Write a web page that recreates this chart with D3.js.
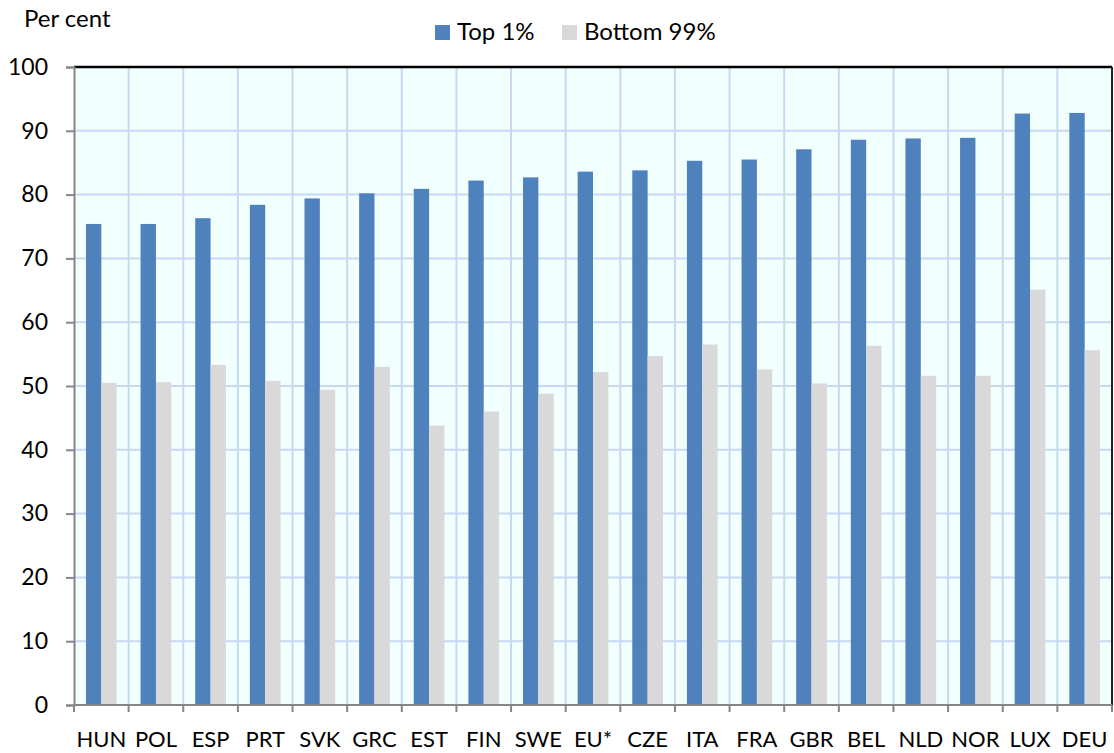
<!DOCTYPE html>
<html>
<head>
<meta charset="utf-8">
<script src="https://cdn.jsdelivr.net/npm/d3@7"></script>
<style>
  body { margin: 0; background: #fff; }
  text { font-family: Lato, "Open Sans", sans-serif; fill: #000; }
</style>
</head>
<body>
<div id="chart"></div>
<script>
const countries = ["HUN", "POL", "ESP", "PRT", "SVK", "GRC", "EST", "FIN", "SWE", "EU*",
    "CZE", "ITA", "FRA", "GBR", "BEL", "NLD", "NOR", "LUX", "DEU"];
const top1 = [75.4, 75.4, 76.3, 78.4, 79.4, 80.2, 80.9, 82.2, 82.7, 83.6,
    83.8, 85.3, 85.5, 87.1, 88.6, 88.8, 88.9, 92.7, 92.8];
const bottom99 = [50.5, 50.6, 53.3, 50.8, 49.4, 53.0, 43.8, 46.0, 48.8, 52.2,
    54.7, 56.5, 52.6, 50.4, 56.3, 51.6, 51.6, 65.1, 55.6];
const seriesNames = ["Top 1%", "Bottom 99%"];
const seriesColors = ["#4F81BD", "#D9D9D9"];
const yTicks = [0, 10, 20, 30, 40, 50, 60, 70, 80, 90, 100];

const width = 1114, height = 753;
const margin = { top: 67, right: 2, bottom: 48, left: 74 };
const innerW = width - margin.left - margin.right;
const innerH = height - margin.top - margin.bottom;

const svg = d3.select("#chart").append("svg")
    .attr("width", width)
    .attr("height", height);

const g = svg.append("g").attr("transform", "translate(" + margin.left + "," + margin.top + ")");

const x = d3.scaleBand().domain(countries).range([0, innerW]).paddingInner(0).paddingOuter(0);
const inner = d3.scaleBand().domain(seriesNames).range([0, x.bandwidth()]).paddingInner(0).paddingOuter(0.78);
const y = d3.scaleLinear().domain([0, 100]).range([innerH, 0]);

// plot background
g.append("rect")
    .attr("width", innerW).attr("height", innerH)
    .attr("fill", "#F2FFFF");

// horizontal grid
g.append("g").selectAll("line")
    .data(yTicks.slice(1))
    .enter().append("line")
    .attr("x1", 0).attr("x2", innerW)
    .attr("y1", d => y(d)).attr("y2", d => y(d))
    .attr("stroke", "#C6D9F1").attr("stroke-width", 2);

// vertical grid at category boundaries
g.append("g").selectAll("line")
    .data(countries.slice(1))
    .enter().append("line")
    .attr("x1", d => x(d)).attr("x2", d => x(d))
    .attr("y1", 0).attr("y2", innerH)
    .attr("stroke", "#C6D9F1").attr("stroke-width", 2);

// bars
const rows = countries.map((c, i) => ({ key: c, values: [top1[i], bottom99[i]] }));
const groups = g.selectAll(".grp")
    .data(rows)
    .enter().append("g")
    .attr("class", "grp")
    .attr("transform", d => "translate(" + x(d.key) + ",0)");

groups.selectAll("rect")
    .data(d => d.values.map((v, j) => ({ name: seriesNames[j], value: v, color: seriesColors[j] })))
    .enter().append("rect")
    .attr("x", d => inner(d.name))
    .attr("width", inner.bandwidth())
    .attr("y", d => y(d.value))
    .attr("height", d => innerH - y(d.value))
    .attr("fill", d => d.color);

// frame: top and right dark lines
g.append("line").attr("x1", 0).attr("x2", innerW).attr("y1", 0).attr("y2", 0)
    .attr("stroke", "#000").attr("stroke-width", 2.5);
g.append("line").attr("x1", innerW).attr("x2", innerW).attr("y1", 0).attr("y2", innerH)
    .attr("stroke", "#222").attr("stroke-width", 2);

// y axis
const yAxis = g.append("g")
    .call(d3.axisLeft(y).tickValues(yTicks).tickSize(8).tickPadding(18));
yAxis.select(".domain").attr("stroke", "#868686").attr("stroke-width", 2);
yAxis.selectAll(".tick line").attr("stroke", "#868686").attr("stroke-width", 2);
yAxis.selectAll("text").style("font-size", "23px").attr("fill", "#000");

// x axis with ticks at category boundaries
const xAxisG = g.append("g").attr("transform", "translate(0," + innerH + ")");
xAxisG.append("line").attr("x1", 0).attr("x2", innerW)
    .attr("stroke", "#868686").attr("stroke-width", 2);
xAxisG.selectAll(".bt")
    .data(countries.concat(["__end"]))
    .enter().append("line")
    .attr("class", "bt")
    .attr("x1", (d, i) => i < countries.length ? x(d) : innerW)
    .attr("x2", (d, i) => i < countries.length ? x(d) : innerW)
    .attr("y1", 0).attr("y2", 7)
    .attr("stroke", "#868686").attr("stroke-width", 2);
xAxisG.selectAll(".lbl")
    .data(countries)
    .enter().append("text")
    .attr("class", "lbl")
    .attr("x", d => x(d) + x.bandwidth() / 2)
    .attr("y", 42)
    .attr("text-anchor", "middle")
    .style("font-size", "22px")
    .text(d => d);

// axis title
svg.append("text")
    .attr("x", 24).attr("y", 27)
    .style("font-size", "24px")
    .text("Per cent");

// legend
const legend = svg.append("g");
const legendX = [435, 562];
seriesNames.forEach((name, i) => {
    legend.append("rect")
        .attr("x", legendX[i]).attr("y", 25)
        .attr("width", 15).attr("height", 15)
        .attr("fill", seriesColors[i]);
    legend.append("text")
        .attr("x", legendX[i] + 22).attr("y", 40)
        .style("font-size", "24px")
        .text(name);
});
</script>
</body>
</html>
